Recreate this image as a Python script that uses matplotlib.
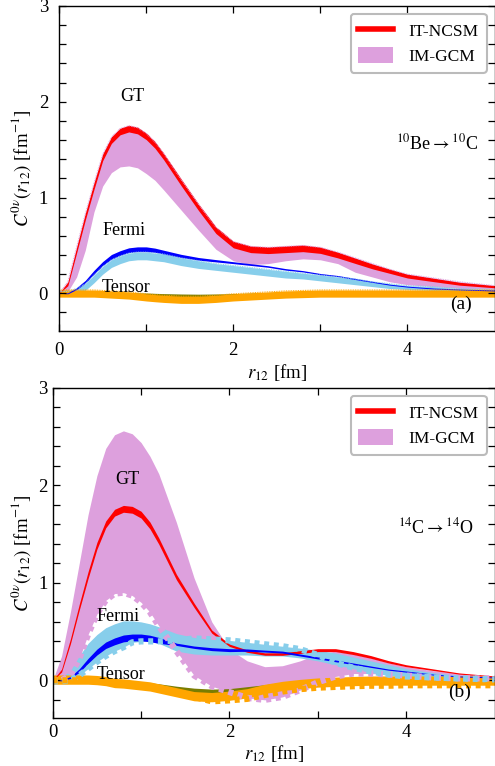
import matplotlib
matplotlib.use("Agg")
import numpy as np
import matplotlib.pyplot as plt
from matplotlib.lines import Line2D
from matplotlib.patches import Patch

# === DATA ===
R = [0, 0.1, 0.2, 0.3, 0.4, 0.5, 0.6, 0.7, 0.8, 0.9, 1.0, 1.1, 1.2, 1.4, 1.6,
     1.8, 2.0, 2.2, 2.4, 2.6, 2.8, 3.0, 3.2, 3.4, 3.6, 3.8, 4.0, 4.3, 4.6, 5.0]

# panel (a): 10Be -> 10C
gt_ncsm_a = [0.0, 0.1, 0.45, 0.8, 1.12, 1.42, 1.6, 1.69, 1.72, 1.70, 1.64, 1.55, 1.43, 1.16, 0.9,
             0.66, 0.51, 0.46, 0.45, 0.46, 0.47, 0.45, 0.40, 0.34, 0.28, 0.23, 0.18, 0.14, 0.10, 0.07]
gt_ncsm_a_err = [0.0, 0.02, 0.03, 0.035, 0.035, 0.035, 0.035, 0.035, 0.035, 0.035, 0.035, 0.035, 0.035, 0.035, 0.035,
                 0.035, 0.035, 0.035, 0.035, 0.035, 0.035, 0.033, 0.03, 0.028, 0.025, 0.022, 0.02, 0.018, 0.015, 0.012]
gt_gcm_a_hi = [0.0, 0.12, 0.48, 0.83, 1.15, 1.45, 1.63, 1.72, 1.75, 1.73, 1.67, 1.58, 1.46, 1.19, 0.93,
               0.69, 0.54, 0.49, 0.48, 0.49, 0.50, 0.48, 0.43, 0.37, 0.31, 0.25, 0.20, 0.16, 0.12, 0.08]
gt_gcm_a_lo = [0.0, 0.02, 0.17, 0.45, 0.85, 1.12, 1.26, 1.32, 1.33, 1.31, 1.25, 1.18, 1.08, 0.87, 0.66,
               0.46, 0.34, 0.30, 0.31, 0.34, 0.36, 0.35, 0.31, 0.22, 0.17, 0.12, 0.09, 0.07, 0.05, 0.04]
f_ncsm_a = [0.0, 0.0, 0.05, 0.12, 0.22, 0.31, 0.38, 0.42, 0.45, 0.46, 0.46, 0.45, 0.43, 0.39, 0.36,
            0.34, 0.32, 0.30, 0.28, 0.25, 0.23, 0.20, 0.18, 0.15, 0.12, 0.09, 0.07, 0.05, 0.04, 0.03]
f_ncsm_a_err = [0.0, 0.005, 0.01, 0.015, 0.02, 0.022, 0.025, 0.025, 0.025, 0.025, 0.025, 0.022, 0.02, 0.017, 0.014,
                0.012, 0.01, 0.009, 0.008, 0.008, 0.007, 0.007, 0.006, 0.006, 0.006, 0.005, 0.005, 0.005, 0.005, 0.005]
f_gcm_a_hi = [0.02, 0.02, 0.05, 0.1, 0.19, 0.28, 0.35, 0.39, 0.42, 0.43, 0.43, 0.42, 0.41, 0.37, 0.34,
              0.31, 0.29, 0.27, 0.25, 0.23, 0.21, 0.19, 0.17, 0.15, 0.12, 0.10, 0.08, 0.07, 0.05, 0.04]
f_gcm_a_lo = [-0.02, -0.02, -0.01, 0.03, 0.11, 0.2, 0.27, 0.31, 0.34, 0.35, 0.35, 0.34, 0.33, 0.29, 0.26,
              0.24, 0.22, 0.20, 0.18, 0.16, 0.15, 0.13, 0.11, 0.09, 0.07, 0.05, 0.04, 0.03, 0.02, 0.02]
t_ncsm_a = [0.0, 0.0, 0.0, 0.0, 0.0, 0.0, 0.0, -0.005, -0.005, -0.01, -0.012, -0.015, -0.018, -0.022, -0.024,
            -0.022, -0.018, -0.012, -0.006, -0.003, 0.0, 0.0, 0.0, 0.0, 0.0, 0.0, 0.0, 0.0, 0.0, 0.0]
t_ncsm_a_err = [0.015] * len(R)
t_gcm_a_hi = [0.035, 0.035, 0.035, 0.035, 0.035, 0.03, 0.025, 0.02, 0.015, 0.005, -0.005, -0.013, -0.02, -0.03, -0.03,
              -0.02, -0.005, 0.005, 0.015, 0.025, 0.03, 0.035, 0.035, 0.035, 0.035, 0.035, 0.035, 0.035, 0.035, 0.035]
t_gcm_a_lo = [-0.04, -0.04, -0.04, -0.04, -0.04, -0.045, -0.05, -0.055, -0.06, -0.07, -0.08, -0.088, -0.095, -0.105, -0.105,
              -0.095, -0.08, -0.07, -0.06, -0.05, -0.045, -0.04, -0.04, -0.04, -0.04, -0.04, -0.04, -0.04, -0.04, -0.04]

# panel (b): 14C -> 14O
gt_ncsm_b = [0.0, 0.1, 0.4, 0.75, 1.08, 1.38, 1.6, 1.72, 1.76, 1.75, 1.70, 1.59, 1.43, 1.06, 0.77,
             0.5, 0.36, 0.3, 0.27, 0.27, 0.29, 0.31, 0.31, 0.28, 0.24, 0.19, 0.15, 0.11, 0.07, 0.04]
gt_ncsm_b_err = [0.0, 0.015, 0.025, 0.03, 0.035, 0.035, 0.035, 0.035, 0.035, 0.035, 0.035, 0.035, 0.032, 0.028, 0.022,
                 0.016, 0.012, 0.012, 0.012, 0.013, 0.014, 0.015, 0.015, 0.015, 0.014, 0.012, 0.01, 0.008, 0.006, 0.005]
gt_gcm_b_hi = [0.0, 0.25, 0.7, 1.2, 1.7, 2.1, 2.38, 2.52, 2.56, 2.53, 2.44, 2.3, 2.12, 1.62, 1.05,
               0.6, 0.32, 0.2, 0.14, 0.15, 0.2, 0.27, 0.3, 0.27, 0.23, 0.18, 0.14, 0.1, 0.07, 0.04]
gt_gcm_b_lo = [0.0, 0.0, 0.05, 0.22, 0.47, 0.68, 0.82, 0.89, 0.9, 0.87, 0.8, 0.7, 0.56, 0.3, 0.05,
               -0.06, -0.12, -0.18, -0.2, -0.17, -0.1, -0.02, 0.04, 0.07, 0.07, 0.06, 0.05, 0.03, 0.02, 0.02]
f_ncsm_b = [0.0, 0.0, 0.03, 0.1, 0.2, 0.29, 0.36, 0.4, 0.43, 0.44, 0.44, 0.43, 0.41, 0.37, 0.34,
            0.32, 0.31, 0.31, 0.3, 0.29, 0.26, 0.23, 0.2, 0.17, 0.14, 0.11, 0.09, 0.06, 0.04, 0.03]
f_ncsm_b_err = [0.0, 0.005, 0.01, 0.018, 0.025, 0.03, 0.033, 0.035, 0.035, 0.035, 0.035, 0.033, 0.03, 0.012, 0.012,
                0.015, 0.015, 0.012, 0.01, 0.01, 0.01, 0.01, 0.009, 0.008, 0.007, 0.006, 0.006, 0.005, 0.005, 0.005]
f_gcm_b_hi = [0.02, 0.03, 0.1, 0.25, 0.38, 0.47, 0.54, 0.58, 0.61, 0.61, 0.6, 0.58, 0.55, 0.48, 0.44,
              0.42, 0.41, 0.39, 0.37, 0.35, 0.33, 0.31, 0.28, 0.24, 0.2, 0.16, 0.12, 0.08, 0.05, 0.03]
f_gcm_b_lo = [-0.01, -0.01, 0.0, 0.05, 0.12, 0.19, 0.25, 0.3, 0.34, 0.39, 0.4, 0.4, 0.38, 0.3, 0.27,
              0.26, 0.26, 0.26, 0.25, 0.25, 0.23, 0.2, 0.16, 0.12, 0.08, 0.05, 0.03, 0.02, 0.01, 0.01]
f_gcm_b_alt = [-0.01, -0.01, 0.0, 0.05, 0.12, 0.19, 0.25, 0.3, 0.34, 0.39, 0.4, 0.4, 0.4, 0.41, 0.43,
               0.42, 0.41, 0.39, 0.37, 0.35, 0.32, 0.26, 0.18, 0.13, 0.09, 0.06, 0.04, 0.03, 0.02, 0.01]
t_ncsm_b = [0.0, 0.0, 0.0, 0.0, 0.0, -0.005, -0.01, -0.015, -0.02, -0.03, -0.04, -0.05, -0.06, -0.085, -0.105,
            -0.115, -0.11, -0.09, -0.07, -0.045, -0.025, -0.01, -0.005, 0.0, 0.0, 0.0, 0.0, 0.0, 0.0, 0.0]
t_ncsm_b_err = [0.025] * len(R)
t_gcm_b_hi = [0.055, 0.055, 0.055, 0.055, 0.055, 0.05, 0.04, 0.02, 0.015, 0.005, -0.005, -0.015, -0.035, -0.075, -0.115,
              -0.125, -0.11, -0.085, -0.04, -0.01, 0.01, 0.025, 0.033, 0.04, 0.045, 0.045, 0.045, 0.045, 0.045, 0.045]
t_gcm_b_lo = [-0.04, -0.04, -0.04, -0.04, -0.04, -0.045, -0.055, -0.075, -0.08, -0.09, -0.1, -0.11, -0.13, -0.17, -0.21,
              -0.22, -0.205, -0.18, -0.135, -0.105, -0.085, -0.07, -0.062, -0.055, -0.05, -0.05, -0.05, -0.05, -0.05, -0.05]
t_gcm_b_alt = [0.0, 0.0, 0.0, 0.0, 0.0, 0.0, -0.01, -0.02, -0.03, -0.04, -0.05, -0.06, -0.08, -0.12, -0.17,
               -0.215, -0.205, -0.19, -0.15, -0.115, -0.09, -0.075, -0.067, -0.06, -0.055, -0.055, -0.05, -0.05, -0.05, -0.05]

PANELS = [
    dict(rect=[0.1195, 0.5683, 0.8795, 0.4239], label="(a)",
         nucl=r"$^{10}$Be$\rightarrow$$^{10}$C", pad=8.0, dash_lw=0.8,
         gt=(gt_ncsm_a, gt_ncsm_a_err, gt_gcm_a_lo, gt_gcm_a_hi, gt_gcm_a_hi),
         f=(f_ncsm_a, f_ncsm_a_err, f_gcm_a_lo, f_gcm_a_hi, f_gcm_a_hi),
         t=(t_ncsm_a, t_ncsm_a_err, t_gcm_a_lo, t_gcm_a_hi, t_gcm_a_hi)),
    dict(rect=[0.1065, 0.0622, 0.8925, 0.4313], label="(b)",
         nucl=r"$^{14}$C$\rightarrow$$^{14}$O", pad=3.8, dash_lw=4.5,
         gt=(gt_ncsm_b, gt_ncsm_b_err, gt_gcm_b_lo, gt_gcm_b_hi, gt_gcm_b_lo),
         f=(f_ncsm_b, f_ncsm_b_err, f_gcm_b_lo, f_gcm_b_hi, f_gcm_b_alt),
         t=(t_ncsm_b, t_ncsm_b_err, t_gcm_b_lo, t_gcm_b_hi, t_gcm_b_alt)),
]

# === STYLE ===
C_GT_NCSM, C_GT_GCM = "#ff0000", "#dda0dd"
C_F_NCSM, C_F_GCM = "#0000ff", "#87ceeb"
C_T_NCSM, C_T_GCM = "#7a7d00", "#ffa500"

plt.rcParams["font.family"] = "serif"
plt.rcParams["font.serif"] = ["Liberation Serif", "DejaVu Serif"]
plt.rcParams["mathtext.fontset"] = "stix"


def gcm_band(ax, lo, hi, alt, color, dash_lw):
    ax.fill_between(R, lo, hi, color=color, lw=0)
    ax.plot(R, alt, color=color, lw=dash_lw, dashes=(0.8, 0.75), dash_capstyle="butt")


def ncsm_band(ax, mid, err, color):
    mid, err = np.array(mid), np.array(err)
    ax.fill_between(R, mid - err, mid + err, color=color, lw=0)


fig = plt.figure(figsize=(4.95, 7.66), dpi=100)

for p in PANELS:
    ax = fig.add_axes(p["rect"])

    gt_mid, gt_err, gt_lo, gt_hi, gt_alt = p["gt"]
    f_mid, f_err, f_lo, f_hi, f_alt = p["f"]
    t_mid, t_err, t_lo, t_hi, t_alt = p["t"]

    gcm_band(ax, gt_lo, gt_hi, gt_alt, C_GT_GCM, p["dash_lw"])
    gcm_band(ax, f_lo, f_hi, f_alt, C_F_GCM, p["dash_lw"])
    ncsm_band(ax, t_mid, t_err, C_T_NCSM)
    gcm_band(ax, t_lo, t_hi, t_alt, C_T_GCM, p["dash_lw"])
    ncsm_band(ax, gt_mid, gt_err, C_GT_NCSM)
    ncsm_band(ax, f_mid, f_err, C_F_NCSM)

    ax.text(0.84, 2.06, "GT", fontsize=13, ha="center", va="center")
    ax.text(0.74, 0.66, "Fermi", fontsize=13, ha="center", va="center")
    ax.text(0.77, 0.06, "Tensor", fontsize=13, ha="center", va="center")
    ax.text(4.34, 1.57, p["nucl"], fontsize=13, ha="center", va="center")
    ax.text(4.61, -0.12, p["label"], fontsize=14, ha="center", va="center")

    ax.set_xlim(0, 5)
    ax.set_ylim(-0.39, 3)
    ax.set_xticks([0, 2, 4])
    ax.set_xticks([1, 3], minor=True)
    ax.set_yticks([0, 1, 2, 3])
    ax.set_yticks(np.arange(-0.2, 3.0, 0.2), minor=True)
    ax.tick_params(which="both", direction="in", top=True, right=True,
                   length=5, width=0.9, labelsize=13.5, pad=p["pad"])
    for s in ax.spines.values():
        s.set_linewidth(1.0)

    ax.set_xlabel(r"$r_{12}$ [fm]", fontsize=13.5, labelpad=2)
    ax.set_ylabel(r"$C^{0\nu}(r_{12})$ [fm$^{-1}$]", fontsize=13.5, labelpad=4)

    handles = [Line2D([], [], color=C_GT_NCSM, lw=4),
               Patch(facecolor=C_GT_GCM, edgecolor="none")]
    leg = ax.legend(handles, ["IT-NCSM", "IM-GCM"], loc="upper right", fontsize=12.5,
                    handlelength=2.0, handleheight=1.1, handletextpad=0.9,
                    borderpad=0.45, labelspacing=0.4, borderaxespad=0.45,
                    fancybox=True, framealpha=1.0)
    leg.get_frame().set_edgecolor("#bbbbbb")
    leg.get_frame().set_linewidth(1.5)

fig.savefig("out.png", dpi=100)
